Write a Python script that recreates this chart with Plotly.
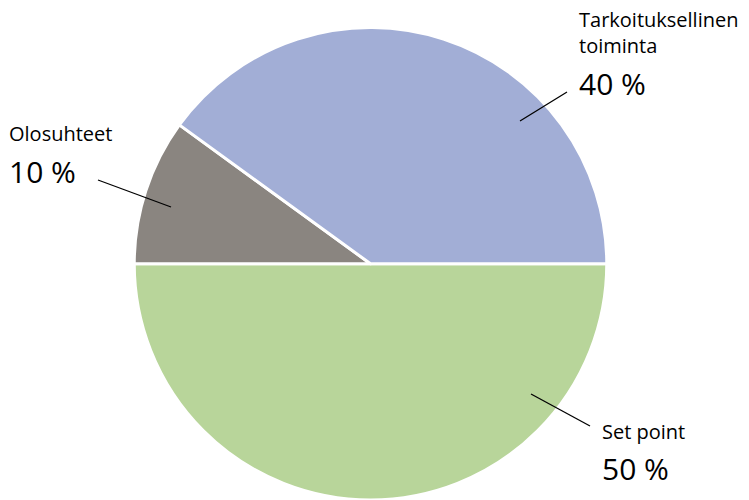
import plotly.graph_objects as go

W, H = 749, 500
labels = ["Set point", "Olosuhteet", "Tarkoituksellinen<br>toiminta"]
values = [50, 10, 40]
colors = ["#B8D59A", "#8A8580", "#A2AED6"]

# label layout (pixel positions of label blocks and leader lines)
label_pos = [  # (x_left, y_name, y_pct)
    (600, 431, 468),
    (7, 133, 171),
    (577, 32, 83),
]
leader = [
    ((531, 394), (590, 426)),
    ((171, 207), (98, 180)),
    ((520, 121), (567, 92)),
]

fig = go.Figure(go.Pie(
    labels=labels, values=values, sort=False, direction="clockwise",
    rotation=90, textinfo="none", hoverinfo="label+percent",
    marker=dict(colors=colors, line=dict(color="white", width=3)),
    domain=dict(x=[134/W, 607/W], y=[0, 1 - 27.5/H]),
    showlegend=False,
))

def px(x): return x / W
def py(y): return 1 - y / H

font = "Open Sans, Noto Sans, sans-serif"
for lab, v, (xl, yn, yp), (p0, p1) in zip(labels, values, label_pos, leader):
    fig.add_annotation(x=px(xl), y=py(yn), xref="paper", yref="paper",
                       text=lab, showarrow=False, xanchor="left", yanchor="middle",
                       align="left", font=dict(family=font, size=20, color="black"))
    fig.add_annotation(x=px(xl), y=py(yp), xref="paper", yref="paper",
                       text=f"{v} %", showarrow=False, xanchor="left", yanchor="middle",
                       font=dict(family=font, size=30, color="black"))
    fig.add_shape(type="line", xref="paper", yref="paper",
                  x0=px(p0[0]), y0=py(p0[1]), x1=px(p1[0]), y1=py(p1[1]),
                  line=dict(color="black", width=1.3))

fig.update_layout(width=W, height=H, margin=dict(l=0, r=0, t=0, b=0),
                  paper_bgcolor="white", plot_bgcolor="white")
fig.write_html("out.html", config={"displayModeBar": False},
               post_script="document.body.style.margin='0';document.body.style.padding='0';")
